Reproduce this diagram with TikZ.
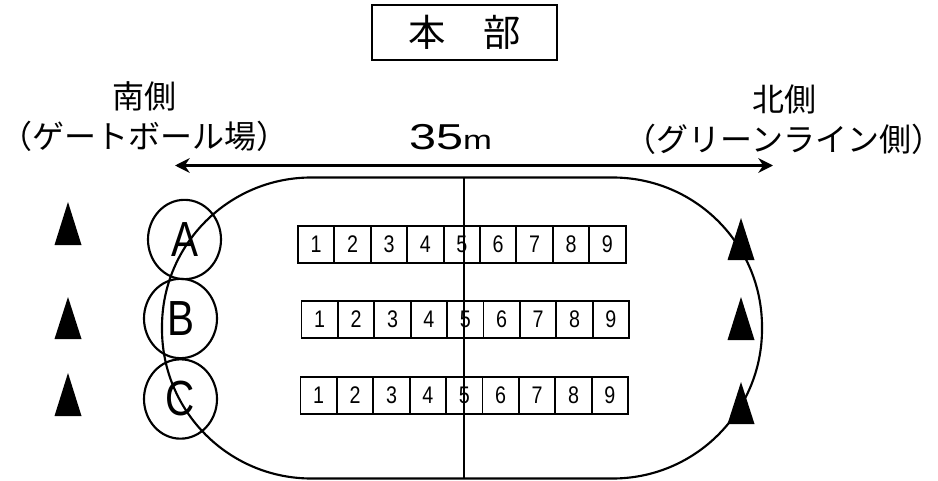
\documentclass[tikz,border=0pt]{standalone}
\usepackage{fontspec}
\setmainfont{Noto Sans CJK JP}
\newfontfamily\latinfont[FakeStretch=0.82]{Liberation Sans}
\newfontfamily\wideletters[FakeStretch=1.35]{Liberation Sans}
\newfontfamily\plainletters[FakeStretch=1.3]{Liberation Sans}
\usetikzlibrary{positioning}
\usetikzlibrary{arrows.meta}
\usetikzlibrary{shapes.geometric}
\tikzset{
	label/.style={font=\fontsize{24}{30}\selectfont, inner sep=0pt, align=center},
	seat/.style={draw, line width=1.4pt, minimum width=27.3pt, minimum height=27.75pt, inner sep=0pt, outer sep=0pt, font=\latinfont\fontsize{18}{20}\selectfont},
	team/.style={draw, line width=1.6pt, ellipse, minimum width=54.75pt, minimum height=59.5pt, inner sep=0pt, font=\latinfont\fontsize{37}{40}\selectfont},
}
\begin{document}
\begin{tikzpicture}[x=0.75pt,y=-0.75pt]
		\useasboundingbox (0,0) rectangle (938,481);

		% Title box
		\node[draw, line width=1.5pt, minimum width=138.75pt, minimum height=41.25pt, inner sep=0pt, font=\fontsize{28}{32}\selectfont] (honbu) at (464.5,32.5) {本　部};

		% Labels
		\node[label] (south) at (144,117) {南側\\（ゲートボール場）};
		\node[label] (north) at (784,119.5) {北側\\\hspace*{-0.3em}（グリーンライン側）\hspace*{-0.3em}};
		\node[inner sep=0pt, anchor=base] (length) at (450.5,150) {\wideletters\fontsize{27}{30}\selectfont 35\plainletters\fontsize{20}{30}\selectfont m};

		% Width arrow
		\coordinate (arrowl) at (175,165.5);
		\coordinate (arrowr) at (773,165.5);
		\draw[{Stealth[length=11pt,width=11pt]}-{Stealth[length=11pt,width=11pt]}, line width=2.4pt] (arrowl) -- (arrowr);

		% Track
		\draw[line width=1.6pt, rounded corners=112pt] (162,177.5) rectangle (762,478.5);
		\coordinate (midt) at (464,177.5);
		\coordinate (midb) at (464,478.5);

		% Seats
		\foreach \row/\xs/\ys in {a/298/244.5, b/301.5/319.5, c/300.5/395.2}
		{
			\foreach \i in {1,...,9}
				\node[seat] (\row\i) at ({\xs+18.2+36.4*(\i-1)},\ys) {\i};
		}
		\draw[line width=1.9pt] (midt) -- (midb);

		% Teams
		\node[team] (teama) at (184.5,239.5) {A};
		\node[team] (teamb) at (180.5,318.5) {B};
		\node[team] (teamc) at (180.5,399) {C};

		% Cones
		\foreach \xc/\ya/\yb in {68/202/245, 68/297/339, 68/373/416, 741/218/260, 741/297/340, 741/382/424}
			\fill (\xc-13.5,\yb) -- (\xc,\ya) -- (\xc+13.5,\yb) -- cycle;
	\end{tikzpicture}
\end{document}
